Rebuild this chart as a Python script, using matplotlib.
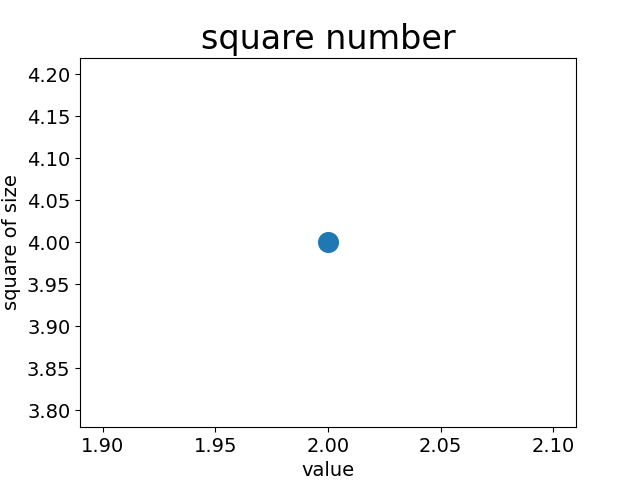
import matplotlib
matplotlib.use("Agg")
import matplotlib.pyplot as plt

x_values = [2]
y_values = [4]

fig, ax = plt.subplots(figsize=(6.4, 4.8), dpi=100)
ax.scatter(x_values, y_values, s=200)

# Title and axis labels
ax.set_title("square number", fontsize=24)
ax.set_xlabel("value", fontsize=14)
ax.set_ylabel("square of size", fontsize=14)
ax.tick_params(axis="both", which="major", labelsize=14)

fig.savefig("out.png")
